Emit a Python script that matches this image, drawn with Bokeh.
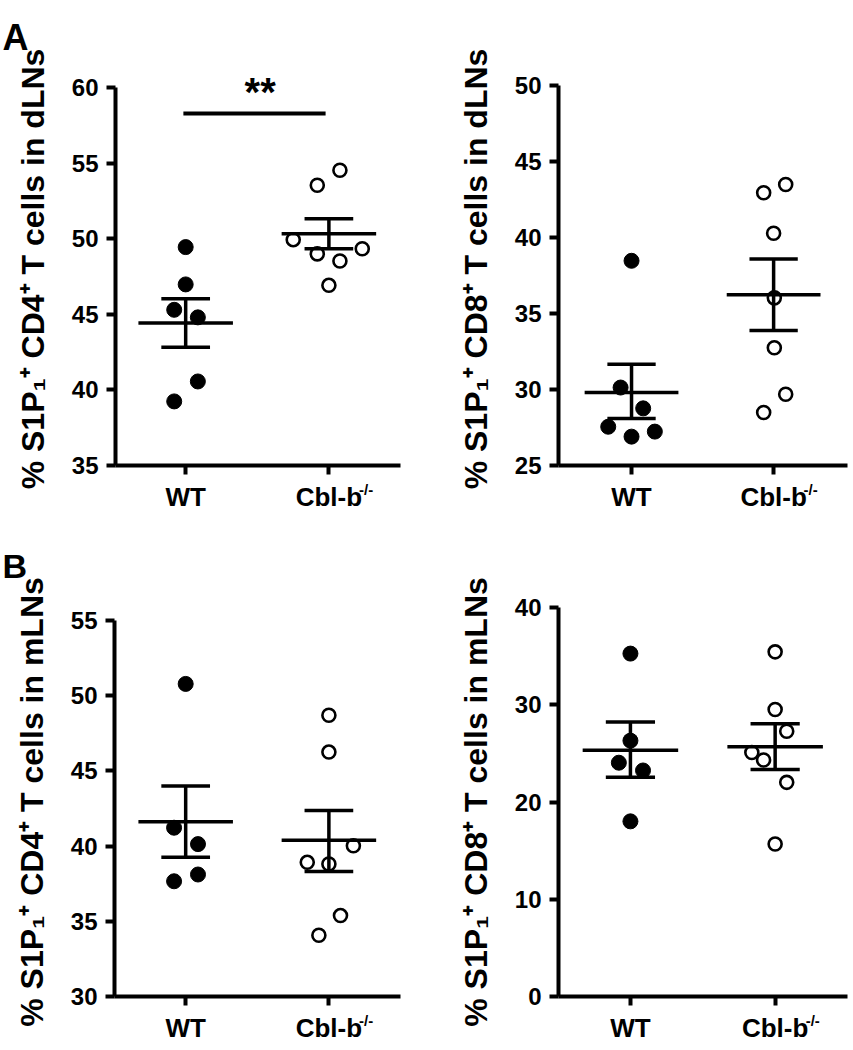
from bokeh.plotting import figure
from bokeh.layouts import column, row
from bokeh.models import Range1d, FixedTicker, Label, LinearAxis, Title
from bokeh.embed import file_html
from bokeh.resources import INLINE

# ---------------- data ----------------
groups = ["WT", "Cbl-b"]
ko_superscript = "-/-"

# A left: % S1P1+ CD4+ T cells in dLNs
cd4_dln_wt = [49.45, 46.98, 45.3, 44.8, 40.56, 39.24]
cd4_dln_ko = [54.53, 53.54, 49.94, 49.34, 49.0, 48.53, 46.92]
cd4_dln_mean = [44.42, 50.34]
cd4_dln_hi = [46.03, 51.33]
cd4_dln_lo = [42.83, 49.34]

# A right: % S1P1+ CD8+ T cells in dLNs
cd8_dln_wt = [38.47, 30.13, 28.76, 27.55, 27.23, 26.9]
cd8_dln_ko = [43.49, 42.95, 40.28, 36.03, 32.75, 29.69, 28.49]
cd8_dln_mean = [29.8, 36.24]
cd8_dln_hi = [31.66, 38.58]
cd8_dln_lo = [28.1, 33.89]

# B left: % S1P1+ CD4+ T cells in mLNs
cd4_mln_wt = [50.78, 41.22, 40.13, 38.11, 37.66]
cd4_mln_ko = [48.7, 46.25, 40.02, 38.92, 38.81, 35.38, 34.07]
cd4_mln_mean = [41.61, 40.39]
cd4_mln_hi = [44.0, 42.36]
cd4_mln_lo = [39.25, 38.31]

# B right: % S1P1+ CD8+ T cells in mLNs
cd8_mln_wt = [35.26, 26.31, 24.04, 23.24, 18.01]
cd8_mln_ko = [35.44, 29.51, 27.28, 25.09, 24.32, 22.02, 15.68]
cd8_mln_mean = [25.33, 25.68]
cd8_mln_hi = [28.22, 28.05]
cd8_mln_lo = [22.54, 23.35]

# significance bar of panel A (left)
sig_text = "**"
sig_level = 58.28

# horizontal scatter (jitter) of the dots, in category units
jit_cd4_dln_wt = [0, 0, -0.08, 0.085, 0.085, -0.08]
jit_cd4_dln_ko = [0.077, -0.081, -0.249, 0.233, -0.081, 0.077, 0]
jit_cd8_dln_wt = [0, -0.077, 0.082, -0.164, 0.164, 0]
jit_cd8_dln_ko = [0.085, -0.07, 0, 0.005, 0.005, 0.085, -0.07]
jit_cd4_mln_wt = [0, -0.081, 0.086, 0.086, -0.081]
jit_cd4_mln_ko = [0, 0, 0.171, -0.151, 0, 0.081, -0.07]
jit_cd8_mln_wt = [0, 0, -0.08, 0.087, 0]
jit_cd8_mln_ko = [0, 0, 0.08, -0.161, -0.08, 0.08, 0]

y_ticks_cd4_dln = [35, 40, 45, 50, 55, 60]
y_ticks_cd8_dln = [25, 30, 35, 40, 45, 50]
y_ticks_cd4_mln = [30, 35, 40, 45, 50, 55]
y_ticks_cd8_mln = [0, 10, 20, 30, 40]

FONT = "Liberation Sans"


def panel(width, height, borders, xr, yr, yticks, ylabel,
          wt, ko, jwt, jko, mean, hi, lo, letter=None, letter_standoff=0,
          letter_size="34px"):
    L, R, T, B = borders
    p = figure(width=width, height=height, output_backend="svg",
               toolbar_location=None, x_range=Range1d(*xr),
               y_range=Range1d(*yr), min_border_left=L, min_border_right=R,
               min_border_top=T, min_border_bottom=B)
    p.outline_line_color = None
    p.grid.visible = False
    p.background_fill_color = "white"
    p.border_fill_color = "white"

    if letter:
        p.add_layout(Title(text=letter, align="left", offset=-(L - 2),
                           standoff=letter_standoff, vertical_align="top",
                           text_font=FONT, text_font_style="bold",
                           text_font_size=letter_size, text_color="black"),
                     "above")

    for ax in (p.xaxis[0], p.yaxis[0]):
        ax.axis_line_width = 4
        ax.axis_line_color = "black"
        ax.major_tick_line_width = 4
        ax.major_tick_line_color = "black"
        ax.major_tick_in = 0
        ax.major_tick_out = 9
        ax.minor_tick_line_color = None
        ax.major_label_text_font = FONT
        ax.major_label_text_font_style = "bold"
        ax.major_label_text_color = "black"

    p.xaxis.ticker = FixedTicker(ticks=[0, 1])
    p.xaxis.major_label_overrides = {0: groups[0], 1: groups[1]}
    p.xaxis.major_label_text_font_size = "26px"
    p.xaxis.major_label_standoff = 7

    # superscript "-/-" of the knock-out label, as a label-only axis
    sup = LinearAxis(ticker=FixedTicker(ticks=[1.26]),
                     major_label_overrides={1.26: ko_superscript},
                     axis_line_color=None, major_tick_line_color=None,
                     minor_tick_line_color=None, major_label_standoff=-40,
                     major_label_text_font=FONT,
                     major_label_text_font_style="bold",
                     major_label_text_font_size="15px",
                     major_label_text_color="black")
    p.add_layout(sup, "below")

    p.yaxis.ticker = FixedTicker(ticks=yticks)
    p.yaxis.bounds = (yticks[0], yticks[-1])
    p.yaxis.major_label_text_font_size = "24px"
    p.yaxis.major_label_standoff = 8
    p.yaxis.axis_label = ylabel
    p.yaxis.axis_label_text_font = FONT
    p.yaxis.axis_label_text_font_style = "bold"
    p.yaxis.axis_label_text_font_size = "32px"
    p.yaxis.axis_label_text_color = "black"
    p.yaxis.axis_label_standoff = 18

    p.scatter([j for j in jwt], wt, size=15, fill_color="black",
              line_color="black", line_width=1)
    p.scatter([1 + j for j in jko], ko, size=13, fill_color="white",
              line_color="black", line_width=2.6)

    xs = [0, 1]
    p.segment(x0=[x - 0.33 for x in xs], x1=[x + 0.33 for x in xs],
              y0=mean, y1=mean, line_width=3.5, line_color="black")
    p.segment(x0=xs, x1=xs, y0=lo, y1=hi, line_width=3.5, line_color="black")
    p.segment(x0=[x - 0.17 for x in xs], x1=[x + 0.17 for x in xs],
              y0=hi, y1=hi, line_width=3.5, line_color="black")
    p.segment(x0=[x - 0.17 for x in xs], x1=[x + 0.17 for x in xs],
              y0=lo, y1=lo, line_width=3.5, line_color="black")
    return p


# row A: frames span page y 72..465 (aligned), row B: 607..996
pA1 = panel(430, 520, (115, 30, 72, 55), (-0.49, 1.50), (35, 61.0),
            y_ticks_cd4_dln, "% S1P\u2081\u207a CD4\u207a T cells in dLNs",
            cd4_dln_wt, cd4_dln_ko, jit_cd4_dln_wt, jit_cd4_dln_ko,
            cd4_dln_mean, cd4_dln_hi, cd4_dln_lo,
            letter="A", letter_standoff=26, letter_size="36px")
pA1.segment(x0=[-0.016], x1=[0.977], y0=[sig_level], y1=[sig_level],
            line_width=4, line_color="black")
pA1.add_layout(Label(x=0.52, y=sig_level + 1.4, text=sig_text,
                     text_font=FONT, text_font_style="bold",
                     text_font_size="40px", text_align="center",
                     text_baseline="alphabetic", text_color="black"))

pA2 = panel(421, 520, (128, 4, 72, 55), (-0.514, 1.52), (25, 50.86),
            y_ticks_cd8_dln, "% S1P\u2081\u207a CD8\u207a T cells in dLNs",
            cd8_dln_wt, cd8_dln_ko, jit_cd8_dln_wt, jit_cd8_dln_ko,
            cd8_dln_mean, cd8_dln_hi, cd8_dln_lo)

pB1 = panel(430, 528, (114, 30, 87, 52), (-0.497, 1.50), (30, 55.86),
            y_ticks_cd4_mln, "% S1P\u2081\u207a CD4\u207a T cells in mLNs",
            cd4_mln_wt, cd4_mln_ko, jit_cd4_mln_wt, jit_cd4_mln_ko,
            cd4_mln_mean, cd4_mln_hi, cd4_mln_lo,
            letter="B", letter_standoff=42, letter_size="34px")

pB2 = panel(421, 528, (128, 4, 87, 52), (-0.497, 1.50), (0, 40),
            y_ticks_cd8_mln, "% S1P\u2081\u207a CD8\u207a T cells in mLNs",
            cd8_mln_wt, cd8_mln_ko, jit_cd8_mln_wt, jit_cd8_mln_ko,
            cd8_mln_mean, cd8_mln_hi, cd8_mln_lo)

layout = column(row(pA1, pA2), row(pB1, pB2))
open("out.html", "w").write(file_html(layout, INLINE))
